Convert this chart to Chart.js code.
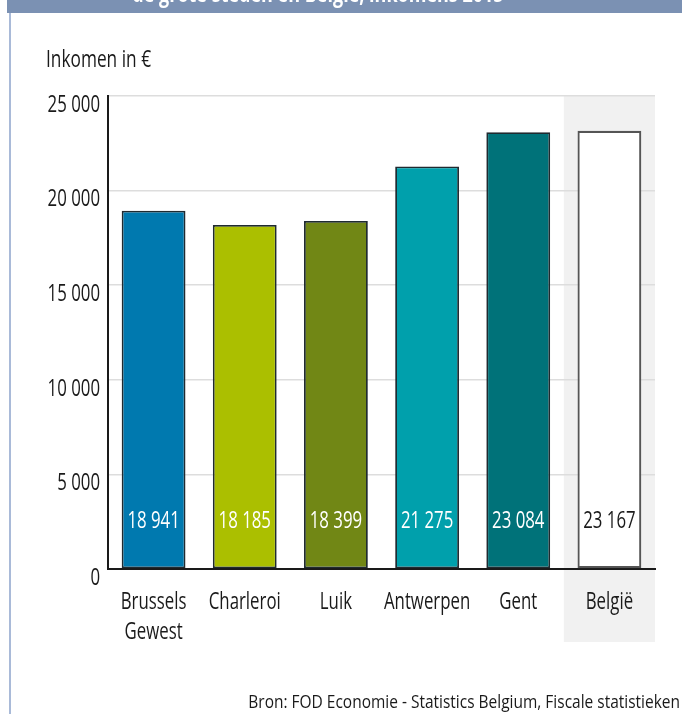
<!DOCTYPE html>
<html>
<head>
<meta charset="utf-8">
<script src="https://cdn.jsdelivr.net/npm/chart.js@4"></script>
<style>
  html, body { margin: 0; padding: 0; background: #fff; }
  canvas { display: block; }
</style>
</head>
<body>
<canvas id="myChart" width="682" height="714"></canvas>
<script>
// Chart data
const cities = [['Brussels', 'Gewest'], 'Charleroi', 'Luik', 'Antwerpen', 'Gent', 'België'];
const incomes = [18941, 18185, 18399, 21275, 23084, 23167];
const barColors = ['#0079af', '#abbf00', '#718715', '#00a0ac', '#007279', '#ffffff'];
const labelColors = ['#ffffff', '#ffffff', '#ffffff', '#ffffff', '#ffffff', '#1a1a1a'];
const yTicks = [0, 5000, 10000, 15000, 20000, 25000];

const FONT = '"Open Sans", "Liberation Sans", sans-serif';
// the original uses a condensed face, so text is squeezed horizontally
const SQUEEZE = 0.7;

function formatNumber(n) {
    return String(n).replace(/\B(?=(\d{3})+(?!\d))/g, ' ');
}

function drawText(ctx, text, x, y, align, font, color, sx) {
    ctx.save();
    ctx.font = font;
    ctx.fillStyle = color;
    ctx.textAlign = align;
    ctx.textBaseline = 'middle';
    ctx.translate(x, y);
    ctx.scale(sx || SQUEEZE, 1);
    ctx.fillText(text, 0, 0);
    ctx.restore();
}

// Header bar, frame line, shaded België column, title and source
const decorations = {
    id: 'decorations',
    beforeDraw(chart) {
        const ctx = chart.ctx;
        const x = chart.scales.x;
        const area = chart.chartArea;
        ctx.save();
        ctx.fillStyle = '#7b91b3';
        ctx.fillRect(7, 0, 682, 13);
        ctx.fillStyle = '#a9bad8';
        ctx.fillRect(9, 13, 2, 714);

        // grey background behind the last category
        const step = (x.right - x.left) / cities.length;
        const cx = x.getPixelForValue(cities.length - 1);
        ctx.fillStyle = '#f1f1f1';
        ctx.fillRect(cx - step / 2, area.top, step, 642 - area.top);
        ctx.restore();

        ctx.save();
        ctx.beginPath();
        ctx.rect(0, 0, 682, 13);
        ctx.clip();
        drawText(ctx, 'de grote steden en België, inkomens 2015', 318, -5, 'center',
            'bold 24px ' + FONT, '#ffffff', 0.75);
        ctx.restore();

        drawText(ctx, 'Inkomen in €', 46, 60, 'left', '24px ' + FONT, '#1a1a1a', 0.72);
        drawText(ctx, 'Bron: FOD Economie - Statistics Belgium, Fiscale statistieken', 680, 703,
            'right', '18px ' + FONT, '#1a1a1a', 0.86);
    },
    afterDraw(chart) {
        const ctx = chart.ctx;
        const xs = chart.scales.x;
        const ys = chart.scales.y;
        // y tick labels, hanging just below their grid line
        yTicks.forEach(v => {
            drawText(ctx, formatNumber(v), 100, ys.getPixelForValue(v) + 9, 'right',
                '24px ' + FONT, '#1a1a1a');
        });
        // category labels
        cities.forEach((c, i) => {
            const lines = Array.isArray(c) ? c : [c];
            lines.forEach((line, j) => {
                drawText(ctx, line, xs.getPixelForValue(i), 602 + j * 30, 'center',
                    '24px ' + FONT, '#1a1a1a');
            });
        });
    },
    afterDatasetsDraw(chart) {
        const ctx = chart.ctx;
        const meta = chart.getDatasetMeta(0);
        const yPos = chart.scales.y.getPixelForValue(0) - 48;
        meta.data.forEach((bar, i) => {
            drawText(ctx, formatNumber(incomes[i]), bar.x, yPos, 'center',
                '24px ' + FONT, labelColors[i]);
        });
    }
};

function createIncomeChart() {
    const ctx = document.getElementById('myChart');
    new Chart(ctx, {
        type: 'bar',
        data: {
            labels: cities,
            datasets: [{
                data: incomes,
                backgroundColor: barColors,
                borderColor: ['#1f2a30', '#1f2a30', '#1f2a30', '#1f2a30', '#1f2a30', '#555555'],
                borderWidth: [1.8, 1.8, 1.8, 1.8, 1.8, 2.2],
                borderSkipped: false,
                barPercentage: 0.7,
                categoryPercentage: 1
            }]
        },
        plugins: [decorations],
        options: {
            responsive: false,
            animation: false,
            layout: {
                padding: { left: 0, right: 27, top: 96, bottom: 65 }
            },
            plugins: {
                legend: { display: false },
                tooltip: { enabled: false }
            },
            scales: {
                x: {
                    grid: { display: false },
                    border: { display: true, color: '#1a1a1a', width: 2 },
                    ticks: { display: false },
                    afterFit(scale) { scale.height = 80; }
                },
                y: {
                    min: 0,
                    max: 25000,
                    afterBuildTicks(scale) {
                        scale.ticks = yTicks.map(v => ({ value: v }));
                    },
                    grid: { color: '#dddddd', lineWidth: 1.5, drawTicks: false },
                    border: { display: true, color: '#1a1a1a', width: 2 },
                    ticks: { display: false },
                    afterFit(scale) { scale.width = 108; }
                }
            }
        }
    });
}

document.addEventListener("DOMContentLoaded", function () {
    createIncomeChart();
});
</script>
</body>
</html>
